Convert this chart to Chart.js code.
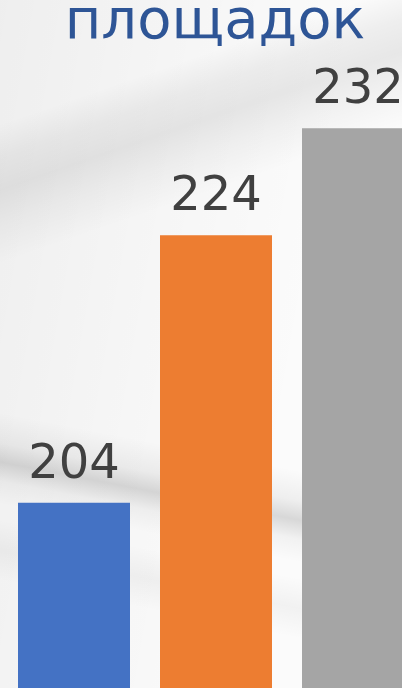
<!DOCTYPE html>
<html>
<head>
<meta charset="utf-8">
<script src="https://cdn.jsdelivr.net/npm/chart.js@4"></script>
<style>
  html, body { margin: 0; padding: 0; }
  body { width: 402px; height: 688px; overflow: hidden; position: relative; font-family: "DejaVu Sans", sans-serif; }
  #bg {
    position: absolute; left: 0; top: 0; width: 402px; height: 688px;
    background:
      linear-gradient(161deg, rgba(0,0,0,0) 15%, rgba(0,0,0,0.05) 19%, rgba(0,0,0,0.08) 23%, rgba(0,0,0,0.04) 27%, rgba(0,0,0,0) 32%),
      linear-gradient(191deg, rgba(0,0,0,0) 64%, rgba(0,0,0,0.05) 68%, rgba(0,0,0,0.14) 70.5%, rgba(0,0,0,0.04) 73%, rgba(0,0,0,0) 76%),
      linear-gradient(191deg, rgba(0,0,0,0) 78%, rgba(0,0,0,0.04) 82%, rgba(0,0,0,0) 86%),
      linear-gradient(100deg, rgba(0,0,0,0.05) 0%, rgba(0,0,0,0.02) 40%, rgba(0,0,0,0) 70%),
      #fbfbfb;
  }
  #title {
    position: absolute; left: 0; width: 430px; top: -15px; text-align: center;
    font-family: "DejaVu Sans", sans-serif; font-size: 56px; line-height: 68px;
    color: #2e5596; white-space: nowrap;
  }
  #wrap { position: absolute; left: 3px; top: 0; width: 426px; height: 690px; }
</style>
</head>
<body>
<div id="bg"></div>
<div id="title">площадок</div>
<div id="wrap"><canvas id="c"></canvas></div>
<script>
const categories = ["A", "B", "C"];
const values = [204, 224, 232];
const barColors = ["#4472c4", "#ed7d31", "#a5a5a5"];

const labelPlugin = {
  id: "valueLabels",
  afterDatasetsDraw(chart) {
    const ctx = chart.ctx;
    const meta = chart.getDatasetMeta(0);
    ctx.save();
    ctx.font = "48px 'DejaVu Sans', sans-serif";
    ctx.fillStyle = "#404040";
    ctx.textAlign = "center";
    ctx.textBaseline = "alphabetic";
    meta.data.forEach((bar, i) => {
      ctx.fillText(String(values[i]), bar.x, bar.y - 25);
    });
    ctx.restore();
  }
};

new Chart(document.getElementById("c"), {
  type: "bar",
  data: {
    labels: categories,
    datasets: [{
      data: values,
      backgroundColor: barColors,
      borderWidth: 0,
      categoryPercentage: 1,
      barPercentage: 112 / 142
    }]
  },
  options: {
    responsive: true,
    maintainAspectRatio: false,
    animation: false,
    layout: { padding: 0 },
    plugins: { legend: { display: false }, tooltip: { enabled: false }, title: { display: false } },
    scales: {
      x: { display: false },
      y: { display: false, min: 190, max: 241.6 }
    }
  },
  plugins: [labelPlugin]
});
</script>
</body>
</html>
